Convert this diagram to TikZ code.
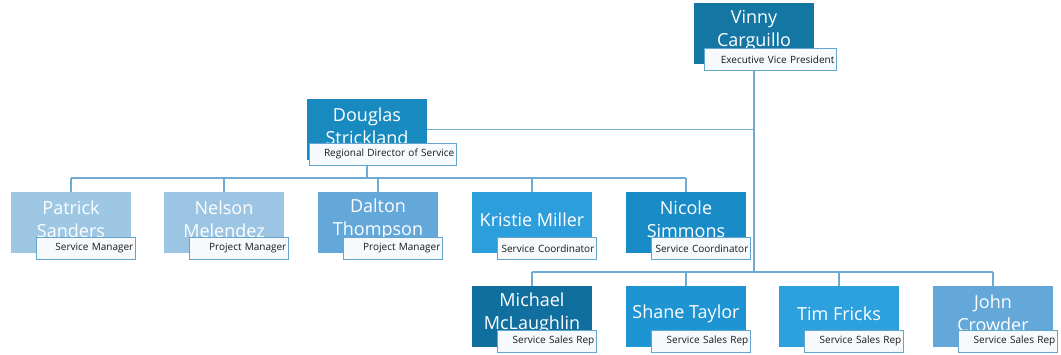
\documentclass[tikz,border=0pt]{standalone}
\usepackage{fontspec}
\setmainfont{Open Sans}
\definecolor{cVin}{RGB}{20,118,163}
\definecolor{cDou}{RGB}{25,138,192}
\definecolor{cPat}{RGB}{158,199,228}
\definecolor{cNel}{RGB}{155,197,227}
\definecolor{cDal}{RGB}{100,168,218}
\definecolor{cKri}{RGB}{45,158,220}
\definecolor{cNic}{RGB}{25,140,200}
\definecolor{cMic}{RGB}{16,111,158}
\definecolor{cSha}{RGB}{30,148,210}
\definecolor{cTim}{RGB}{45,160,222}
\definecolor{cJoh}{RGB}{100,168,218}
\definecolor{cLine}{RGB}{110,170,210}
\definecolor{cTagB}{RGB}{100,165,205}
\definecolor{cTagF}{RGB}{246,250,252}
\definecolor{cTxt}{RGB}{25,25,25}
\begin{document}
\begin{tikzpicture}[x=0.75pt,y=-0.75pt,
  box/.style={minimum width=90pt, minimum height=45.75pt, inner sep=0pt},
  nm/.style={text=white, font=\fontsize{13.5}{17}\selectfont, align=center, inner sep=0pt},
  tag/.style={draw=cTagB, line width=1pt, fill=cTagF, text=cTxt,
    font=\fontsize{7.5}{9}\selectfont, text width=#1, align=right,
    inner xsep=1.5pt, inner ysep=0pt, minimum height=16.5pt, anchor=south east},
  tag/.default=71.25pt,
  conn/.style={draw=cLine, line width=1.3pt}]
\useasboundingbox (0,0) rectangle (1061,354);
\fill[white] (0,0) rectangle (1061,354);
% bus coordinates
\coordinate (b2) at (0,178);
\coordinate (b3) at (0,272);
% boxes
\node[box, fill=cVin] (vinny) at (754,33.5) {};
\node[box, fill=cDou] (douglas) at (367,129.5) {};
\node[box, fill=cPat] (patrick) at (71,222.5) {};
\node[box, fill=cNel] (nelson) at (224,222.5) {};
\node[box, fill=cDal] (dalton) at (378,222.5) {};
\node[box, fill=cKri] (kristie) at (532,222.5) {};
\node[box, fill=cNic] (nicole) at (686,222.5) {};
\node[box, fill=cMic] (michael) at (532,316.5) {};
\node[box, fill=cSha] (shane) at (686,316.5) {};
\node[box, fill=cTim] (tim) at (839,316.5) {};
\node[box, fill=cJoh] (john) at (993,316.5) {};
% names
\node[nm] (vinnyn) at ([yshift=2.25pt]vinny.center) {Vinny\\Carguillo};
\node[nm] (douglasn) at ([yshift=2.25pt]douglas.center) {Douglas\\Strickland};
\node[nm] (patrickn) at ([yshift=2.25pt]patrick.center) {Patrick\\Sanders};
\node[nm] (nelsonn) at ([yshift=2.25pt]nelson.center) {Nelson\\Melendez};
\node[nm] (daltonn) at ([yshift=2.25pt]dalton.center) {Dalton\\Thompson};
\node[nm] (kristien) at ([yshift=2.25pt]kristie.center) {Kristie Miller};
\node[nm] (nicolen) at ([yshift=2.25pt]nicole.center) {Nicole\\Simmons};
\node[nm] (michaeln) at ([yshift=2.25pt]michael.center) {Michael\\McLaughlin};
\node[nm] (shanen) at ([yshift=2.25pt]shane.center) {Shane Taylor};
\node[nm] (timn) at ([yshift=2.25pt]tim.center) {Tim Fricks};
\node[nm] (johnn) at ([yshift=2.25pt]john.center) {John\\Crowder};
% tags
\node[tag=96pt] (vinnyl) at (837,71) {Executive Vice President};
\node[tag=107.25pt] (douglasl) at (457,166) {Regional Director of Service};
\node[tag] (patrickl) at (136,260) {Service Manager};
\node[tag] (nelsonl) at (289,260) {Project Manager};
\node[tag] (daltonl) at (443,260) {Project Manager};
\node[tag] (kristiel) at (597,260) {Service Coordinator};
\node[tag] (nicolel) at (751,260) {Service Coordinator};
\node[tag] (michaell) at (597,353) {Service Sales Rep};
\node[tag] (shanel) at (751,353) {Service Sales Rep};
\node[tag] (timl) at (904,353) {Service Sales Rep};
\node[tag] (johnl) at (1058,353) {Service Sales Rep};
% connectors
\draw[conn] (vinny |- vinnyl.south) -- (vinny |- b3);
\draw[conn] (douglas.east) -- (douglas.east -| vinny);
\draw[conn] (douglas |- douglasl.south) -- (douglas |- b2);
\draw[conn] (patrick |- b2) -- (nicole |- b2);
\foreach \n in {patrick,nelson,dalton,kristie,nicole}
  \draw[conn] (\n |- b2) -- (\n.north);
\draw[conn] (michael |- b3) -- (john |- b3);
\foreach \n in {michael,shane,tim,john}
  \draw[conn] (\n |- b3) -- (\n.north);
\end{tikzpicture}
\end{document}
